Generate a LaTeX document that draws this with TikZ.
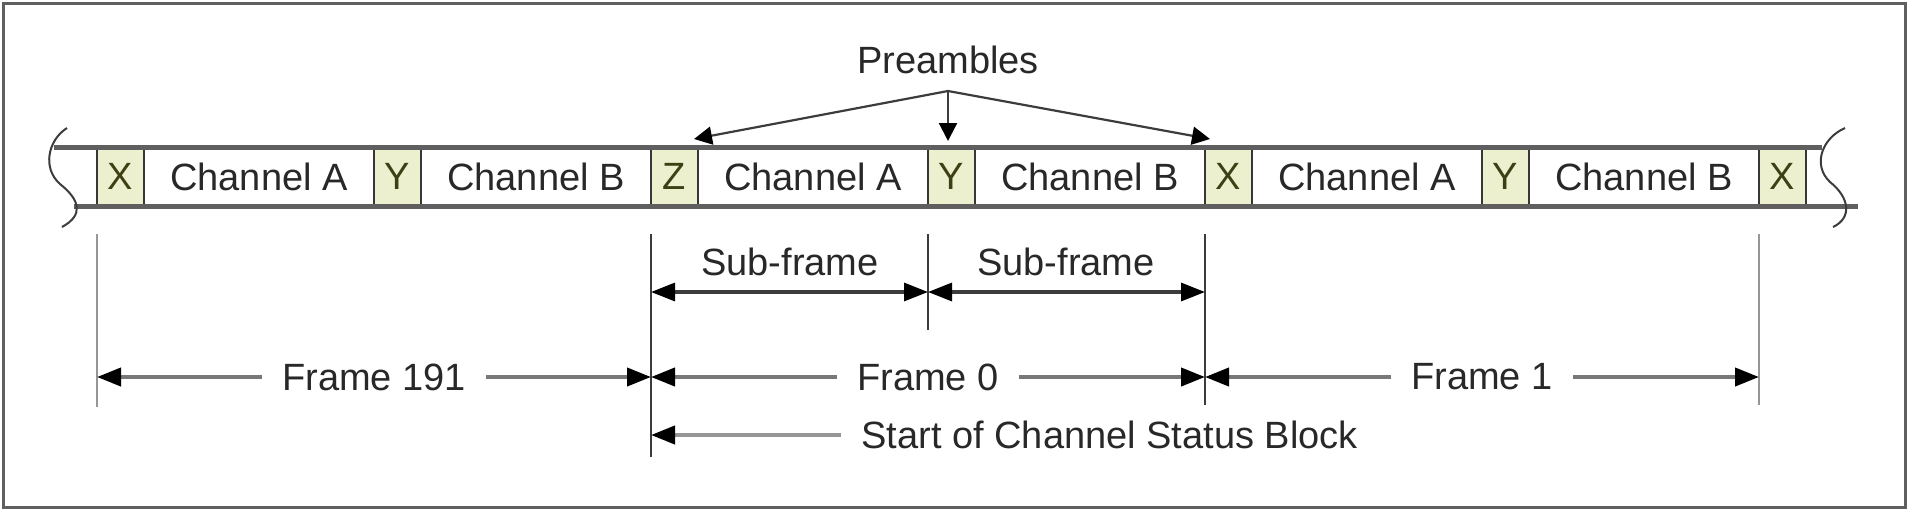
\documentclass[tikz,border=0pt]{standalone}
\usepackage{fontspec}
\setmainfont{Liberation Sans}
\usetikzlibrary{arrows.meta}
\definecolor{cellfill}{RGB}{236,240,206}
\definecolor{letter}{RGB}{60,64,20}
\definecolor{txt}{RGB}{40,40,40}
\definecolor{bandc}{RGB}{95,95,95}
\definecolor{cellline}{RGB}{55,55,55}
\definecolor{darkline}{RGB}{60,60,60}
\definecolor{lightline}{RGB}{150,150,150}
\definecolor{midline}{RGB}{120,120,120}
\tikzset{
  precell/.style={draw=cellline, line width=1.2pt, fill=cellfill, text=letter,
    minimum width=23.5pt, minimum height=29.5pt, inner sep=0pt, outer sep=0pt},
  chancell/.style={draw=cellline, line width=1.2pt, fill=white, text=txt,
    minimum width=115pt, minimum height=29.5pt, inner sep=0pt, outer sep=0pt},
  bandline/.style={draw=bandc, line width=2.5pt},
  brk/.style={draw=darkline, line width=1pt},
  tickdark/.style={draw=darkline, line width=1.1pt},
  ticklight/.style={draw=lightline, line width=1.1pt},
  dimtip/.tip={Triangle[length=12pt,width=9pt,color=black]},
  framearr/.style={draw=midline, line width=2pt, dimtip-dimtip},
  subarr/.style={draw=darkline, line width=1.6pt, dimtip-dimtip},
  csarr/.style={draw=lightline, line width=2pt, -dimtip},
  prearr/.style={draw=darkline, line width=1.1pt, -{Triangle[length=9pt,width=9pt,color=black]}},
  lab/.style={text=txt, fill=white, inner xsep=10pt, inner ysep=2pt},
  plain/.style={text=txt, inner sep=0pt},
}
\begin{document}
\begin{tikzpicture}[x=0.5pt,y=-0.5pt, font=\fontsize{19}{22}\selectfont]
\useasboundingbox (0,0) rectangle (1909,510);
\draw[draw=bandc, line width=1.5pt] (3,3) rectangle (1905,507);

% cells
\foreach \i/\l/\c in {0/X/A,1/Y/B,2/Z/A,3/Y/B,4/X/A,5/Y/B} {
  \node[precell, anchor=north west] (p\i) at ({97+277*\i},147) {\l};
  \node[chancell, anchor=north west] (c\i) at (p\i.north east) {Channel \c};
}
\node[precell, anchor=north west] (p6) at ({97+277*6},147) {X};

% band lines
\draw[bandline] (54,147) -- (1822,147);
\draw[bandline] (74,206) -- (1858,206);

% break marks
\draw[brk] (67,128) .. controls (48,140) and (42,168) .. (60,184) .. controls (80,200) and (84,215) .. (62,227);
\draw[brk] (1845,128) .. controls (1822,138) and (1812,165) .. (1830,182) .. controls (1850,198) and (1852,218) .. (1833,227);

% preambles
\node[plain] (pre) at (948,60) {Preambles};
\coordinate (po) at (948,91);
\coordinate (pz) at (694,139);
\coordinate (py) at (948,141);
\coordinate (px) at (1210,139);
\draw[prearr] (po) -- (pz);
\draw[prearr] (po) -- (py);
\draw[prearr] (po) -- (px);

% tick lines
\coordinate (t0) at (97,234);  \coordinate (b0) at (97,407);
\coordinate (t1) at (651,234); \coordinate (b1) at (651,457);
\coordinate (t2) at (928,234); \coordinate (b2) at (928,330);
\coordinate (t3) at (1205,234);\coordinate (b3) at (1205,405);
\coordinate (t4) at (1759,234);\coordinate (b4) at (1759,405);
\draw[ticklight] (t0) -- (b0);
\draw[tickdark] (t1) -- (b1);
\draw[tickdark] (t2) -- (b2);
\draw[tickdark] (t3) -- (b3);
\draw[ticklight] (t4) -- (b4);

% sub-frames
\coordinate (s0) at (651,292);
\coordinate (s1) at (928,292);
\coordinate (s2) at (1205,292);
\draw[subarr] (s0) -- (s1);
\draw[subarr] (s1) -- (s2);
\node[plain] (sf1) at (790,262) {Sub-frame};
\node[plain] (sf2) at (1066,262) {Sub-frame};

% frames
\coordinate (f0) at (97,377);
\coordinate (f1) at (651,377);
\coordinate (f2) at (1205,377);
\coordinate (f3) at (1759,377);
\draw[framearr] (f0) -- node[lab] (fr191) {Frame 191} (f1);
\draw[framearr] (f1) -- node[lab] (fr0) {Frame 0} (f2);
\draw[framearr] (f2) -- node[lab] (fr1) {Frame 1} (f3);

% channel status block
\coordinate (cs) at (651,435);
\node[plain, anchor=west] (cst) at (861,435) {Start of Channel Status Block};
\draw[csarr] ([xshift=-10pt]cst.west) -- (cs);
\end{tikzpicture}
\end{document}
